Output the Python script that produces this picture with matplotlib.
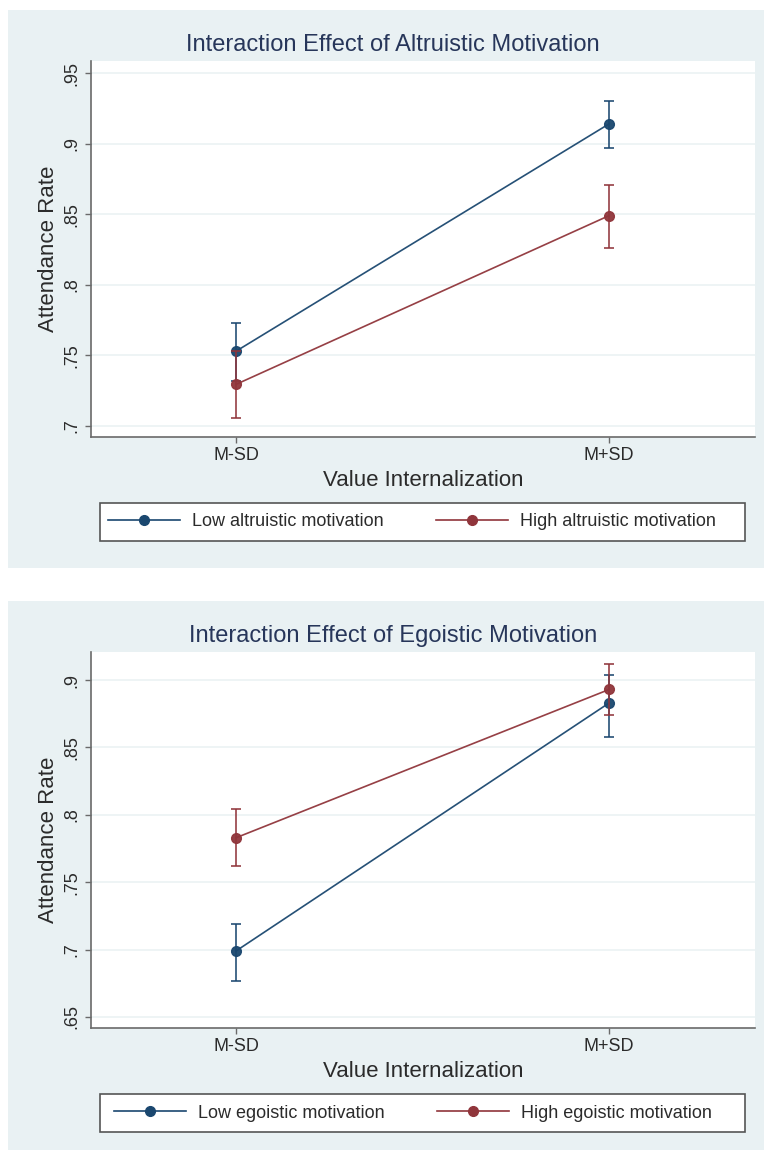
import matplotlib
matplotlib.use("Agg")
import matplotlib.pyplot as plt
from matplotlib.patches import Rectangle
from matplotlib.lines import Line2D

# ---------------- data ----------------
x_labels = ["M-SD", "M+SD"]
x_pos = [0, 1]

alt_titles = "Interaction Effect of Altruistic Motivation"
alt_low = [0.753, 0.914]
alt_low_lo = [0.732, 0.897]
alt_low_hi = [0.773, 0.930]
alt_high = [0.7295, 0.849]
alt_high_lo = [0.7055, 0.826]
alt_high_hi = [0.753, 0.8705]
alt_legend = ["Low altruistic motivation", "High altruistic motivation"]
alt_yticks = [0.7, 0.75, 0.8, 0.85, 0.9, 0.95]
alt_yticklabels = [".7", ".75", ".8", ".85", ".9", ".95"]

ego_title = "Interaction Effect of Egoistic Motivation"
ego_low = [0.699, 0.883]
ego_low_lo = [0.677, 0.858]
ego_low_hi = [0.719, 0.904]
ego_high = [0.783, 0.893]
ego_high_lo = [0.762, 0.874]
ego_high_hi = [0.804, 0.912]
ego_legend = ["Low egoistic motivation", "High egoistic motivation"]
ego_yticks = [0.65, 0.7, 0.75, 0.8, 0.85, 0.9]
ego_yticklabels = [".65", ".7", ".75", ".8", ".85", ".9"]

xlabel = "Value Internalization"
ylabel = "Attendance Rate"

# ---------------- style ----------------
plt.rcParams['font.family'] = ['Liberation Sans', 'DejaVu Sans']
BG = "#e9f1f3"
BLUE = "#1a476f"
RED = "#90353b"
TITLE_C = "#27365a"
TEXT_C = "#2b2b2b"
AX_C = "#6a6a6a"

W, H = 764, 1150
fig = plt.figure(figsize=(W / 100, H / 100), dpi=100)


def fx(px):
    return px / W


def fy(py):
    return 1 - py / H


def panel(off, title, low, low_lo, low_hi, high, high_lo, high_hi,
          legend_labels, yticks, yticklabels, ylim, leg_x):
    # background of the graph region
    bg_top = 10 + off
    bg_bot = min(568 + off, H)
    fig.patches.append(Rectangle((fx(8), fy(bg_bot)), fx(764 - 8), (bg_bot - bg_top) / H,
                                 transform=fig.transFigure, facecolor=BG,
                                 edgecolor="none", zorder=-5))
    top, bot = 61 + off, 437 + off
    ax = fig.add_axes([fx(91), fy(bot), fx(755 - 91), (bot - top) / H])
    ax.set_zorder(1)
    ax.set_facecolor("white")
    for s in ["top", "right"]:
        ax.spines[s].set_visible(False)
    for s in ["left", "bottom"]:
        ax.spines[s].set_color(AX_C)
        ax.spines[s].set_linewidth(1.2)
    ax.set_xlim(-0.389, 1.391)
    ax.set_ylim(*ylim)
    ax.set_yticks(yticks)
    ax.set_yticklabels(yticklabels, rotation=90, va="center", fontsize=13, color=TEXT_C)
    ax.set_xticks(x_pos)
    ax.set_xticklabels(x_labels, fontsize=13, color=TEXT_C)
    ax.tick_params(axis="both", direction="out", length=4.5, width=1, color=AX_C, pad=3)
    ax.yaxis.grid(True, color=BG, linewidth=1.1)
    ax.set_axisbelow(True)

    for vals, lo, hi, col, z in [(low, low_lo, low_hi, BLUE, 3), (high, high_lo, high_hi, RED, 4)]:
        yerr = [[v - l for v, l in zip(vals, lo)], [h - v for v, h in zip(vals, hi)]]
        ax.errorbar(x_pos, vals, yerr=yerr, color=col, ecolor=col, elinewidth=1.2,
                    capsize=3.5, capthick=1.2, lw=1.2, marker="o", markersize=7,
                    mfc=col, mec=col, zorder=z, alpha=0.95)

    fig.text(fx(393), fy(45 + off), title, ha="center", va="center",
             fontsize=17, color=TITLE_C, zorder=3)
    ax.set_xlabel(xlabel, fontsize=16, color=TEXT_C, labelpad=4)
    ax.set_ylabel(ylabel, fontsize=16, color=TEXT_C, labelpad=3)

    # legend box
    lt, lb = 503 + off, 541 + off
    fig.patches.append(Rectangle((fx(100), fy(lb)), fx(745 - 100), (lb - lt) / H,
                                 transform=fig.transFigure, facecolor="white",
                                 edgecolor="#555555", linewidth=1.2, zorder=0.5))
    handles = [Line2D([], [], color=BLUE, lw=1.2, marker="o", markersize=7, mfc=BLUE, mec=BLUE),
               Line2D([], [], color=RED, lw=1.2, marker="o", markersize=7, mfc=RED, mec=RED)]
    leg = fig.legend(handles, legend_labels, loc="center left",
                     bbox_to_anchor=(fx(leg_x), fy((lt + lb) / 2)),
                     bbox_transform=fig.transFigure, ncol=2, frameon=False,
                     fontsize=13, handlelength=4, handletextpad=0.65,
                     columnspacing=2.9, borderpad=0, borderaxespad=0)
    for t in leg.get_texts():
        t.set_color(TEXT_C)
    leg.set_zorder(2)
    return ax


panel(0, alt_titles, alt_low, alt_low_lo, alt_low_hi, alt_high, alt_high_lo, alt_high_hi,
      alt_legend, alt_yticks, alt_yticklabels, (0.6922, 0.9585), 108)
panel(591, ego_title, ego_low, ego_low_lo, ego_low_hi, ego_high, ego_high_lo, ego_high_hi,
      ego_legend, ego_yticks, ego_yticklabels, (0.6418, 0.9208), 114)

fig.savefig("out.png", dpi=100, facecolor="white")
